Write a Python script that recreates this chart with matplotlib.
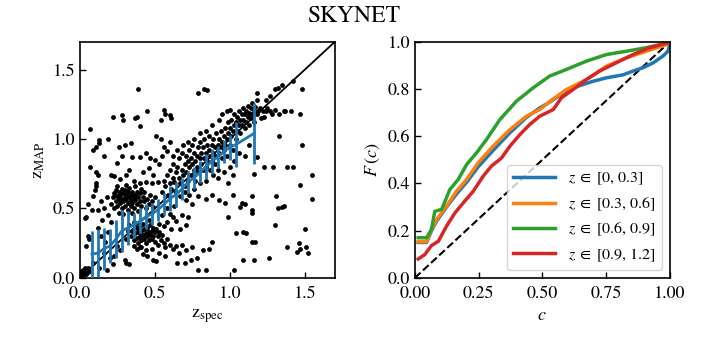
import numpy as np
import matplotlib
matplotlib.use("Agg")
import matplotlib.pyplot as plt

plt.rcParams["font.family"] = ["STIXGeneral", "DejaVu Serif"]
plt.rcParams["mathtext.fontset"] = "stix"

# ---- left panel: z_spec vs z_MAP ----
points = [
    # near origin
    (0.01, 0.02), (0.02, 0.04), (0.02, 0.06), (0.03, 0.05), (0.03, 0.07), (0.04, 0.06),
    (0.05, 0.07), (0.01, 0.05), (0.04, 0.03), (0.06, 0.05), (0.02, 0.02), (0.05, 0.04),
    # low-left sparse
    (0.05, 0.30), (0.06, 0.28), (0.04, 0.23), (0.09, 0.11), (0.13, 0.07), (0.18, 0.06),
    (0.03, 0.43), (0.04, 0.44), (0.05, 0.53), (0.07, 0.80), (0.09, 0.59), (0.10, 0.63),
    (0.11, 0.66), (0.11, 0.68), (0.11, 0.76), (0.12, 0.74), (0.09, 0.92), (0.11, 0.94),
    (0.13, 0.97), (0.13, 0.99), (0.16, 0.88), (0.19, 1.00), (0.07, 1.07), (0.08, 0.49),
    (0.12, 0.49), (0.14, 0.55), (0.16, 0.50), (0.15, 0.42), (0.18, 0.58), (0.12, 0.36),
    (0.14, 0.30), (0.17, 0.26), (0.19, 0.33), (0.20, 0.14), (0.22, 0.10), (0.23, 0.16),
    (0.25, 0.23), (0.27, 0.20), (0.30, 0.13), (0.31, 0.11), (0.33, 0.10), (0.16, 0.18),
    (0.21, 0.40), (0.19, 0.45),
    # upper-left sparse
    (0.21, 0.74), (0.23, 0.73), (0.22, 1.16), (0.28, 1.17), (0.29, 1.14), (0.37, 1.15),
    (0.38, 1.16), (0.39, 1.36), (0.40, 1.09), (0.45, 1.20), (0.54, 1.14), (0.56, 1.21),
    (0.57, 1.18), (0.60, 1.17), (0.61, 1.15), (0.25, 0.83), (0.28, 0.88), (0.26, 0.94),
    (0.30, 0.96), (0.34, 0.97), (0.35, 0.87), (0.40, 0.87), (0.44, 0.90), (0.47, 0.86),
    (0.50, 0.85), (0.51, 1.02), (0.54, 1.00), (0.56, 0.94), (0.27, 0.71), (0.31, 0.74),
    (0.36, 0.70), (0.40, 0.68), (0.44, 0.69), (0.48, 0.68), (0.52, 0.69), (0.33, 0.78),
    (0.42, 0.76), (0.46, 0.79), (0.53, 0.82), (0.55, 0.88), (0.58, 0.91), (0.49, 0.74),
    (0.60, 0.98),
    # dense clump around z_spec 0.3, z_MAP 0.55
    (0.22, 0.58), (0.23, 0.61), (0.24, 0.55), (0.24, 0.63), (0.25, 0.52), (0.25, 0.59),
    (0.26, 0.57), (0.26, 0.62), (0.27, 0.54), (0.27, 0.60), (0.28, 0.50), (0.28, 0.57),
    (0.28, 0.64), (0.29, 0.55), (0.29, 0.61), (0.30, 0.52), (0.30, 0.58), (0.30, 0.63),
    (0.31, 0.56), (0.31, 0.60), (0.32, 0.49), (0.32, 0.54), (0.32, 0.62), (0.33, 0.58),
    (0.33, 0.65), (0.34, 0.52), (0.34, 0.56), (0.34, 0.60), (0.35, 0.62), (0.35, 0.54),
    (0.36, 0.58), (0.36, 0.50), (0.37, 0.60), (0.37, 0.56), (0.38, 0.53), (0.38, 0.62),
    (0.39, 0.58), (0.40, 0.55), (0.40, 0.61), (0.41, 0.52), (0.42, 0.58), (0.43, 0.55),
    (0.43, 0.62), (0.44, 0.50), (0.45, 0.57), (0.46, 0.53), (0.23, 0.50), (0.21, 0.53),
    (0.26, 0.47), (0.29, 0.46), (0.35, 0.47), (0.39, 0.48), (0.41, 0.64), (0.37, 0.66),
    (0.31, 0.67), (0.25, 0.66), (0.47, 0.60), (0.48, 0.55), (0.50, 0.58), (0.49, 0.51),
    # dense clump around z_spec 0.45, z_MAP 0.3
    (0.34, 0.30), (0.35, 0.34), (0.36, 0.27), (0.37, 0.32), (0.38, 0.36), (0.38, 0.29),
    (0.39, 0.25), (0.39, 0.33), (0.40, 0.30), (0.40, 0.37), (0.41, 0.27), (0.41, 0.34),
    (0.42, 0.31), (0.42, 0.39), (0.43, 0.28), (0.43, 0.35), (0.44, 0.32), (0.44, 0.25),
    (0.45, 0.36), (0.45, 0.30), (0.46, 0.33), (0.46, 0.27), (0.47, 0.38), (0.47, 0.31),
    (0.48, 0.34), (0.48, 0.28), (0.49, 0.36), (0.49, 0.30), (0.50, 0.33), (0.50, 0.26),
    (0.51, 0.35), (0.52, 0.30), (0.52, 0.24), (0.53, 0.33), (0.54, 0.27), (0.55, 0.31),
    (0.56, 0.25), (0.57, 0.22), (0.58, 0.28), (0.60, 0.24), (0.62, 0.21), (0.64, 0.23),
    (0.36, 0.23), (0.38, 0.21), (0.41, 0.22), (0.44, 0.20), (0.33, 0.38), (0.36, 0.40),
    (0.31, 0.28), (0.32, 0.34), (0.53, 0.39), (0.56, 0.37), (0.58, 0.40), (0.46, 0.42),
    (0.61, 0.35), (0.48, 0.21), (0.66, 0.18), (0.68, 0.24), (0.71, 0.20), (0.75, 0.22),
    (0.40, 0.22), (0.42, 0.17), (0.45, 0.16), (0.49, 0.13), (0.51, 0.12), (0.53, 0.18),
    (0.57, 0.16), (0.65, 0.11), (0.70, 0.11), (0.74, 0.13), (0.78, 0.14), (0.79, 0.06),
    (0.84, 0.06), (0.62, 0.44), (0.64, 0.41), (0.68, 0.45), (0.72, 0.44), (0.71, 0.38),
    (0.67, 0.35), (0.60, 0.46), (0.55, 0.45), (0.58, 0.50), (0.63, 0.52), (0.67, 0.59),
    (0.71, 0.56), (0.75, 0.53), (0.79, 0.59), (0.84, 0.57), (0.88, 0.60), (0.93, 0.56),
    (0.97, 0.54), (0.88, 0.26), (0.82, 0.20), (0.86, 0.21),
    # along the diagonal
    (0.55, 0.62), (0.56, 0.70), (0.57, 0.66), (0.58, 0.74), (0.59, 0.60), (0.60, 0.68),
    (0.60, 0.78), (0.61, 0.64), (0.62, 0.72), (0.62, 0.82), (0.63, 0.69), (0.64, 0.76),
    (0.64, 0.62), (0.65, 0.80), (0.66, 0.72), (0.66, 0.86), (0.67, 0.68), (0.68, 0.78),
    (0.68, 0.90), (0.69, 0.74), (0.70, 0.82), (0.70, 0.66), (0.71, 0.88), (0.71, 0.76),
    (0.72, 0.84), (0.72, 0.70), (0.73, 0.80), (0.73, 0.92), (0.74, 0.74), (0.74, 0.86),
    (0.75, 0.82), (0.75, 0.96), (0.76, 0.78), (0.76, 0.90), (0.77, 0.84), (0.77, 0.70),
    (0.78, 0.88), (0.78, 0.80), (0.79, 0.94), (0.79, 0.76), (0.80, 0.86), (0.80, 0.98),
    (0.81, 0.82), (0.81, 0.90), (0.82, 0.78), (0.82, 0.94), (0.83, 0.86), (0.83, 1.00),
    (0.84, 0.90), (0.84, 0.80), (0.85, 0.96), (0.85, 0.84), (0.86, 0.92), (0.86, 1.02),
    (0.87, 0.88), (0.87, 0.78), (0.88, 0.96), (0.88, 0.84), (0.89, 1.00), (0.89, 0.90),
    (0.90, 0.94), (0.90, 0.82), (0.91, 1.04), (0.91, 0.88), (0.92, 0.96), (0.92, 0.78),
    (0.93, 1.00), (0.93, 0.90), (0.94, 1.06), (0.94, 0.94), (0.95, 0.98), (0.95, 0.86),
    (0.96, 1.02), (0.96, 0.92), (0.97, 1.08), (0.97, 0.96), (0.98, 1.00), (0.98, 0.88),
    (0.99, 1.04), (0.99, 1.12), (1.00, 0.96), (1.00, 1.08), (1.01, 1.02), (1.01, 1.14),
    (1.02, 0.92), (1.02, 1.06), (1.03, 1.10), (1.03, 1.18), (1.04, 1.00), (1.04, 1.12),
    (1.05, 1.06), (1.05, 1.16), (1.06, 1.10), (1.06, 1.20), (1.07, 1.14), (1.07, 1.04),
    (1.08, 1.18), (1.08, 1.10), (1.09, 1.14), (1.09, 1.22), (1.10, 1.08), (1.10, 1.18),
    (1.11, 1.12), (1.11, 1.20), (1.12, 1.16), (1.12, 1.24), (1.13, 1.10), (1.13, 1.19),
    (1.14, 1.22), (1.14, 1.15), (1.15, 1.18), (1.15, 1.26), (1.16, 1.20), (1.16, 1.12),
    (1.17, 1.23), (1.18, 1.18), (1.18, 1.28), (1.19, 1.20), (1.20, 1.22), (1.21, 1.15),
    (1.22, 1.20), (1.23, 1.16), (1.24, 1.20), (1.25, 1.22), (1.27, 1.20), (1.28, 1.18),
    (1.30, 1.21), (1.33, 1.18), (1.36, 1.20), (1.37, 1.20), (1.41, 1.20), (1.47, 1.18),
    (0.93, 1.14), (0.95, 1.18), (0.98, 1.20), (1.00, 1.21), (0.88, 1.10), (0.84, 1.06),
    (0.80, 1.04), (0.76, 1.00), (0.72, 0.98), (0.69, 0.96), (0.65, 0.92), (0.62, 0.88),
    (0.92, 0.72), (0.96, 0.76), (1.00, 0.80), (1.03, 0.84), (1.06, 0.90), (1.10, 0.88),
    (1.13, 0.96), (1.16, 0.75), (1.18, 0.87), (1.23, 0.80), (1.29, 0.80), (1.38, 0.80),
    (1.42, 0.80), (1.48, 0.96), (1.33, 1.02), (0.84, 0.70), (0.89, 0.74), (0.80, 0.68),
    (0.76, 0.64), (0.73, 0.60), (0.70, 0.62), (0.99, 0.68), (1.02, 0.74),
    # high outliers
    (0.79, 1.33), (0.83, 1.36), (0.85, 1.35), (1.18, 1.33), (1.30, 1.36), (1.32, 1.37),
    (1.35, 1.39), (1.42, 1.42), (1.48, 1.36), (1.27, 1.31), (1.24, 1.28),
    # lower right sparse
    (1.03, 0.06), (0.99, 0.44), (1.04, 0.32), (1.09, 0.33), (1.11, 0.32), (1.09, 0.13),
    (1.16, 0.13), (1.15, 0.26), (1.17, 0.26), (1.26, 0.14), (1.30, 0.38), (1.38, 0.22),
    (1.45, 0.19), (1.46, 0.25), (1.47, 0.21), (1.50, 0.35), (1.52, 0.18), (1.51, 0.22),
    (1.31, 0.59), (1.32, 0.50), (1.36, 0.52), (1.35, 0.51), (1.15, 0.59), (1.15, 0.47),
    (1.55, 0.74), (1.55, 0.57), (1.47, 0.67), (1.07, 0.51), (1.08, 0.54), (1.10, 0.53),
    (1.15, 0.49), (1.02, 0.60),
]
z_spec, z_map = np.array(points).T

bin_z = [0.08, 0.12, 0.16, 0.20, 0.24, 0.28, 0.32, 0.36, 0.40, 0.44, 0.48, 0.52, 0.56,
         0.60, 0.64, 0.68, 0.72, 0.76, 0.80, 0.84, 0.88, 0.92, 0.96, 1.00, 1.04, 1.16]
bin_mean = [0.17, 0.18, 0.21, 0.23, 0.28, 0.34, 0.36, 0.38, 0.41, 0.44, 0.46, 0.49, 0.53,
            0.57, 0.60, 0.64, 0.69, 0.72, 0.76, 0.80, 0.84, 0.87, 0.91, 0.94, 0.96, 1.04]
bin_err = [0.17, 0.17, 0.15, 0.12, 0.14, 0.15, 0.12, 0.09, 0.09, 0.09, 0.08, 0.08, 0.08,
           0.09, 0.09, 0.08, 0.08, 0.08, 0.08, 0.09, 0.09, 0.08, 0.08, 0.09, 0.16, 0.22]

# ---- right panel: coverage curves F(c) ----
c_blue = [0.013, 0.046, 0.065, 0.085, 0.124, 0.163, 0.203, 0.248, 0.307, 0.373, 0.438,
          0.49, 0.53, 0.57, 0.634, 0.70, 0.75, 0.817, 0.856, 0.895, 0.935, 0.974, 0.993, 1.0]
F_blue = [0.15, 0.15, 0.20, 0.24, 0.30, 0.355, 0.405, 0.47, 0.54, 0.615, 0.68,
          0.72, 0.745, 0.775, 0.81, 0.833, 0.847, 0.86, 0.876, 0.89, 0.911, 0.94, 0.96, 0.99]

c_orange = [0.013, 0.046, 0.065, 0.085, 0.124, 0.163, 0.203, 0.248, 0.307, 0.373, 0.438,
            0.49, 0.54, 0.595, 0.673, 0.752, 0.83, 0.908, 0.987, 1.0]
F_orange = [0.153, 0.153, 0.205, 0.247, 0.304, 0.367, 0.417, 0.487, 0.558, 0.628, 0.685,
            0.713, 0.756, 0.798, 0.84, 0.897, 0.932, 0.96, 0.988, 1.0]

c_green = [0.013, 0.046, 0.065, 0.078, 0.105, 0.137, 0.17, 0.203, 0.242, 0.281, 0.333,
           0.399, 0.464, 0.529, 0.595, 0.673, 0.752, 0.83, 0.908, 0.993, 1.0]
F_green = [0.17, 0.17, 0.205, 0.282, 0.29, 0.374, 0.417, 0.48, 0.53, 0.586, 0.67,
           0.749, 0.805, 0.855, 0.883, 0.918, 0.946, 0.96, 0.975, 0.996, 1.0]

c_red = [0.013, 0.039, 0.065, 0.092, 0.124, 0.157, 0.19, 0.229, 0.268, 0.30, 0.34, 0.373,
         0.412, 0.451, 0.49, 0.543, 0.575, 0.621, 0.673, 0.725, 0.79, 0.856, 0.922, 0.993, 1.0]
F_red = [0.08, 0.099, 0.137, 0.155, 0.219, 0.275, 0.318, 0.367, 0.431, 0.473, 0.508, 0.558,
         0.607, 0.65, 0.685, 0.713, 0.763, 0.798, 0.84, 0.876, 0.911, 0.946, 0.975, 0.996, 1.0]

labels = [r"$z\;\in\;[0,\, 0.3]$", r"$z\;\in\;[0.3,\, 0.6]$",
          r"$z\;\in\;[0.6,\, 0.9]$", r"$z\;\in\;[0.9,\, 1.2]$"]

fig = plt.figure(figsize=(7.08, 3.54), dpi=100)
ax1 = fig.add_axes([0.113, 0.215, 0.360, 0.667])
ax2 = fig.add_axes([0.586, 0.215, 0.360, 0.667])

ax1.plot([0, 1.7], [0, 1.7], color="k", lw=1.3, zorder=1)
ax1.scatter(z_spec, z_map, s=12, color="k", lw=0, zorder=2)
ax1.errorbar(bin_z, bin_mean, yerr=bin_err, color="tab:blue", lw=2, elinewidth=2,
             capsize=0, zorder=3)
ax1.set_xlim(0, 1.7)
ax1.set_ylim(0, 1.7)
ax1.set_xticks([0, 0.5, 1.0, 1.5])
ax1.set_yticks([0, 0.5, 1.0, 1.5])
ax1.set_xlabel(r"z$_{\rm spec}$", fontsize=13)
ax1.set_ylabel(r"z$_{\rm MAP}$", fontsize=13)

ax2.plot([0, 1], [0, 1], color="k", ls="--", lw=1.5)
for c, F, lab, col in zip([c_blue, c_orange, c_green, c_red],
                          [F_blue, F_orange, F_green, F_red], labels,
                          ["tab:blue", "tab:orange", "tab:green", "tab:red"]):
    ax2.plot(c, F, color=col, lw=2.5, label=lab)
ax2.set_xlim(0, 1)
ax2.set_ylim(0, 1)
ax2.set_xticks([0, 0.25, 0.5, 0.75, 1.0])
ax2.set_xticklabels(["0.00", "0.25", "0.50", "0.75", "1.00"])
ax2.set_yticks([0, 0.2, 0.4, 0.6, 0.8, 1.0])
ax2.set_xlabel(r"$c$", fontsize=13)
ax2.set_ylabel(r"$F\,(c)$", fontsize=13)
ax2.legend(loc="lower right", fontsize=11.5, handlelength=2.6)

for ax in (ax1, ax2):
    ax.tick_params(direction="in", labelsize=13, length=4, width=1)
    ax.tick_params(axis="x", pad=6)
    for sp in ax.spines.values():
        sp.set_linewidth(1.2)

fig.suptitle("SKYNET", fontsize=17, y=0.985)
fig.savefig("out.png", dpi=100)
